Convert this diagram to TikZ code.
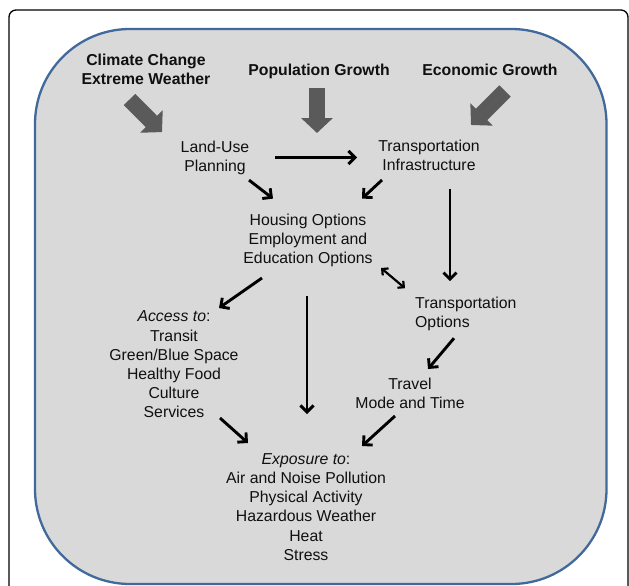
\documentclass[tikz,border=0pt]{standalone}
\usepackage{fontspec}
\setmainfont{Liberation Sans}
\usetikzlibrary{arrows.meta,calc}
\definecolor{panelfill}{HTML}{D9D9D9}
\definecolor{panelline}{HTML}{41699B}
\definecolor{fatgray}{HTML}{5A5A5A}
\definecolor{txt}{HTML}{101010}
\tikzset{
  lbl/.style={align=center,inner sep=0pt,text=txt,font=\fontsize{15.8}{19.2}\selectfont},
  head/.style={lbl,font=\fontsize{15.8}{19.2}\selectfont\bfseries},
  arr/.style={line width=2.9pt,-{Straight Barb[length=6.5pt,width=13pt]}},
  darr/.style={line width=2.2pt,{Straight Barb[length=4.5pt,width=9pt]}-{Straight Barb[length=4.5pt,width=9pt]}},
  fat/.style={draw=fatgray,line width=16pt,-{Triangle[length=15pt,width=31pt]},fatgray}
}
\begin{document}
\begin{tikzpicture}[x=1pt,y=-1pt]
\useasboundingbox (0,0) rectangle (629,586);
\begin{scope}
\clip (0,0) rectangle (629,586);
\draw[line width=1.3pt,rounded corners=7pt] (9,10) rectangle (628,640);
\draw[panelline,fill=panelfill,line width=2.3pt,rounded corners=95pt] (35,29) rectangle (606.5,584);
\end{scope}

\node[head] (clim) at (146,69.5) {Climate Change\\Extreme Weather};
\node[head] (pop) at (319,71.6) {Population Growth};
\node[head] (econ) at (490,70) {Economic Growth};

\node[lbl] (land) at (215,158.1) {Land-Use\\Planning};
\node[lbl] (tinfra) at (429,155.6) {Transportation\\Infrastructure};
\node[lbl] (housing) at (308,240.6) {Housing Options\\Employment and\\Education Options};
\node[lbl] (access) at (174,364.5) {\textit{Access to}:\\Transit\\Green/Blue Space\\Healthy Food\\Culture\\Services};
\node[lbl,align=left,anchor=west] (topts) at (415,314.2) {Transportation\\Options};
\node[lbl] (travel) at (410,393.5) {Travel\\Mode and Time};
\node[lbl] (expo) at (306,507) {\textit{Exposure to}:\\Air and Noise Pollution\\Physical Activity\\Hazardous Weather\\Heat\\Stress};

% fat arrows from the external drivers
\draw[fat] ($(clim)+(-16.5,30)$) -- ($(land)+(-53,-26)$);
\draw[fat] ($(pop)+(-2,16.4)$) -- ($(pop)+(-2,61.4)$);
\draw[fat] ($(econ)+(15,21)$) -- ($(econ)+(-19,55)$);

% black connectors
\draw[arr] ($(land)+(60,-0.6)$) -- ($(tinfra)+(-72,1.9)$);
\draw[arr] ($(land)+(34,22)$) -- ($(housing)+(-35,-42)$);
\draw[arr] ($(tinfra)+(-47,24.4)$) -- ($(housing)+(54,-42)$);
\draw[arr] ($(tinfra)+(21,33.4)$) -- ($(topts.west)+(35,-33)$);
\draw[darr] ($(housing)+(73,27.4)$) -- ($(topts.west)+(-10,-26)$);
\draw[arr] ($(housing)+(-46,37.4)$) -- ($(access)+(45,-56.5)$);
\draw[arr] ($(housing)+(-1,55.4)$) -- ($(expo)+(1,-93)$);
\draw[arr] ($(topts.west)+(39,24)$) -- ($(travel)+(18,-24.5)$);
\draw[arr] ($(access)+(46,53.5)$) -- ($(expo)+(-58,-64)$);
\draw[arr] ($(travel)+(-15,22.5)$) -- ($(expo)+(56,-61)$);
\end{tikzpicture}
\end{document}
